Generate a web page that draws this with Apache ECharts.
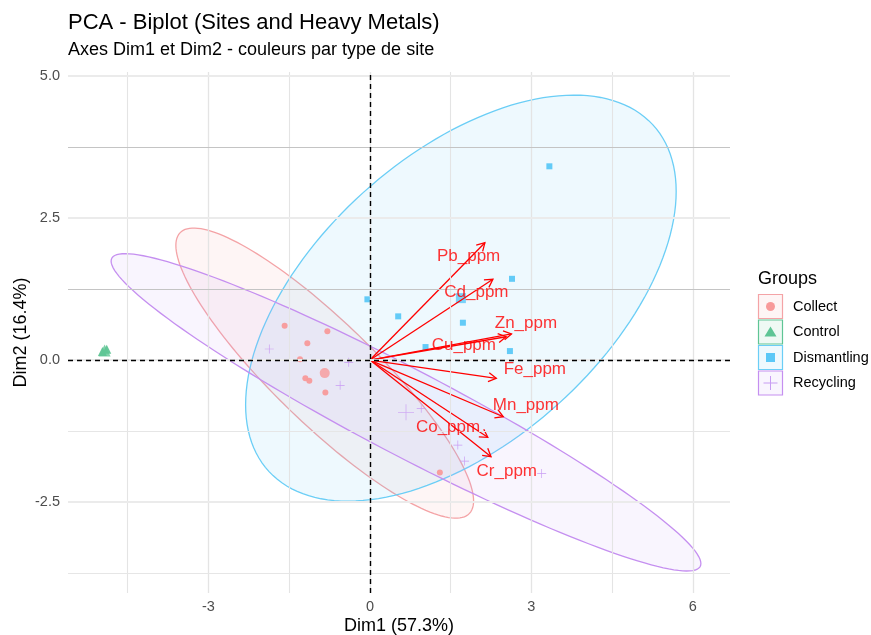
<!DOCTYPE html>
<html><head><meta charset="utf-8">
<script src="https://cdn.jsdelivr.net/npm/echarts@6/dist/echarts.min.js"></script>
<style>html,body{margin:0;padding:0;background:#fff}#c{width:871px;height:635px}</style>
</head><body><div id="c"></div>
<script>
// ---------- data ----------
const groups = ['Collect', 'Control', 'Dismantling', 'Recycling'];
const groupColors = ['#F89A9A', '#5FC595', '#5BC8F7', '#C99CF3'];
const borderColors = ['#F4A3A6', '#5FC595', '#6BCEF6', '#C58FF0'];

const collectX = [-1.585, -0.791, -1.163, -1.299, -1.200, -1.126, -0.828, 1.299];
const collectY = [0.604, 0.505, 0.294, 0.012, -0.322, -0.364, -0.569, -1.977];
const controlX = [-4.97, -4.89];
const controlY = [0.15, 0.19];
const dismantlingX = [3.334, 2.640, -0.047, 0.525, 1.727, 1.033, 2.601];
const dismantlingY = [3.410, 1.430, 1.069, 0.769, 0.657, 0.229, 0.158];
const recyclingX = [-1.870, -0.394, -0.554, 0.953, 1.633, 1.758, 3.191];
const recyclingY = [0.194, -0.040, -0.445, -0.850, -1.496, -1.778, -1.995];

// group mean points (larger markers)
const meanX = [-0.84, -4.93, 1.69, 0.67];
const meanY = [-0.23, 0.17, 1.09, -0.92];

// confidence ellipse spread (data units): var x, var y, cov xy ; null = none drawn
const ellXX = [7.65, null, 16.00, 30.02];
const ellYY = [6.52, null, 12.77, 7.80];
const ellXY = [-6.22, null, 7.51, -14.58];

// variable arrows
const varNames = ['Pb_ppm', 'Cd_ppm', 'Zn_ppm', 'Cu_ppm', 'Fe_ppm', 'Mn_ppm', 'Co_ppm', 'Cr_ppm'];
const varX = [2.136, 2.285, 2.630, 2.530, 2.348, 2.478, 2.190, 2.250];
const varY = [2.065, 1.421, 0.460, 0.410, -0.322, -0.998, -1.360, -1.700];
const labelX = [1.833, 1.978, 2.899, 1.745, 3.064, 2.897, 1.451, 2.543];
const labelY = [1.831, 1.192, 0.646, 0.252, -0.158, -0.804, -1.185, -1.966];

// axes
const xTicks = [-3, 0, 3, 6];
const xMinorTicks = [-4.5, -1.5, 1.5, 4.5];
const yTicks = [-2.5, 0, 2.5, 5];
const yMinorTicks = [-3.75, -1.25, 1.25, 3.75];

// ---------- chart ----------
const FONT = 'Liberation Sans, Arial, Helvetica, sans-serif';
function hexA(hex, a) {
  const n = parseInt(hex.slice(1), 16);
  return 'rgba(' + ((n >> 16) & 255) + ',' + ((n >> 8) & 255) + ',' + (n & 255) + ',' + a + ')';
}
const crossSmall = 'path://M-1,-0.075L1,-0.075L1,0.075L-1,0.075Z M-0.075,-1L0.075,-1L0.075,1L-0.075,1Z';
const crossBig = 'path://M-1,-0.05L1,-0.05L1,0.05L-1,0.05Z M-0.05,-1L0.05,-1L0.05,1L-0.05,1Z';

const pointSets = [[collectX, collectY], [controlX, controlY], [dismantlingX, dismantlingY], [recyclingX, recyclingY]];
const symbols = ['circle', 'triangle', 'rect', crossSmall];
const symbolSizes = [6, 9, 6, 9];
const meanSymbols = ['circle', 'triangle', 'rect', crossBig];
const meanSizes = [10, 12, 10, 16];

const series = [];

// grid lines
const gridLines = [];
xTicks.forEach(v => gridLines.push({ xAxis: v, lineStyle: { color: '#E4E4E4', width: 1.3, type: 'solid' } }));
xMinorTicks.forEach(v => gridLines.push({ xAxis: v, lineStyle: { color: '#E4E4E4', width: 1.1, type: 'solid' } }));
yTicks.forEach(v => gridLines.push({ yAxis: v, lineStyle: { color: '#EBEBEB', width: 2, type: 'solid' } }));
yMinorTicks.forEach(v => gridLines.push({ yAxis: v, lineStyle: { color: v > 0 ? '#C4C4C4' : '#E6E6E6', width: 1, type: 'solid' } }));
series.push({
  type: 'scatter', data: [], z: 0, silent: true,
  markLine: { silent: true, symbol: ['none', 'none'], label: { show: false }, animation: false, data: gridLines }
});

// ellipses
groups.forEach((g, i) => {
  if (ellXX[i] == null) return;
  const L11 = Math.sqrt(ellXX[i]);
  const L21 = ellXY[i] / L11;
  const L22 = Math.sqrt(ellYY[i] - L21 * L21);
  series.push({
    type: 'custom', z: 1, silent: true,
    data: [[meanX[i], meanY[i]]],
    renderItem: (params, api) => {
      const cx = api.value(0), cy = api.value(1);
      const pts = [];
      for (let k = 0; k <= 160; k++) {
        const t = k / 160 * Math.PI * 2;
        const c = Math.cos(t), s = Math.sin(t);
        pts.push(api.coord([cx + L11 * c, cy + L21 * c + L22 * s]));
      }
      return { type: 'polygon', shape: { points: pts },
        style: { fill: hexA(groupColors[i], 0.1), stroke: borderColors[i], lineWidth: 1.3 } };
    }
  });
});

// zero lines
series.push({
  type: 'scatter', data: [], z: 2, silent: true,
  markLine: { silent: true, symbol: ['none', 'none'], label: { show: false }, animation: false,
    lineStyle: { color: '#000', width: 1.4, type: [5, 4] },
    data: [{ xAxis: 0 }, { yAxis: 0 }] }
});

// points
groups.forEach((g, i) => {
  const [xs, ys] = pointSets[i];
  const isCross = i === 3;
  series.push({
    name: g, type: 'scatter', z: 3,
    symbol: symbols[i], symbolSize: symbolSizes[i],
    itemStyle: { color: groupColors[i], opacity: isCross ? 1 : 0.95 },
    data: xs.map((x, k) => [x, ys[k]])
  });
  series.push({
    name: g + ' mean', type: 'scatter', z: 3,
    symbol: meanSymbols[i], symbolSize: meanSizes[i],
    itemStyle: { color: groupColors[i] },
    data: [[meanX[i], meanY[i]]]
  });
});

// arrows
series.push({
  type: 'custom', z: 4, silent: true,
  data: varX.map((x, i) => [x, varY[i]]),
  renderItem: (params, api) => {
    const p0 = api.coord([0, 0]);
    const p1 = api.coord([api.value(0), api.value(1)]);
    const ang = Math.atan2(p1[1] - p0[1], p1[0] - p0[0]);
    const L = 9, a = Math.PI / 6;
    const h1 = [p1[0] - L * Math.cos(ang - a), p1[1] - L * Math.sin(ang - a)];
    const h2 = [p1[0] - L * Math.cos(ang + a), p1[1] - L * Math.sin(ang + a)];
    return { type: 'group', children: [
      { type: 'line', shape: { x1: p0[0], y1: p0[1], x2: p1[0], y2: p1[1] }, style: { stroke: '#FF0000', lineWidth: 1.3 } },
      { type: 'polyline', shape: { points: [h1, p1, h2] }, style: { stroke: '#FF0000', fill: null, lineWidth: 1.3 } }
    ] };
  }
});

// arrow labels
series.push({
  type: 'scatter', z: 5, silent: true, symbolSize: 0,
  data: labelX.map((x, i) => ({ value: [x, labelY[i]], name: varNames[i] })),
  label: { show: true, position: 'inside', formatter: '{b}', color: '#FF0000', fontSize: 17, fontFamily: FONT }
});

// legend (graphic)
const legendEls = [{
  type: 'text', z: 10,
  style: { text: 'Groups', x: 758, y: 279, fill: '#000', fontSize: 18, fontFamily: FONT, verticalAlign: 'middle', align: 'left' }
}];
groups.forEach((g, i) => {
  const cy = 306.5 + i * 25.5;
  const cx = 770.5;
  legendEls.push({ type: 'rect', z: 10, shape: { x: 758.5, y: cy - 12, width: 24, height: 24 },
    style: { fill: hexA(groupColors[i], 0.1), stroke: borderColors[i], lineWidth: 1.2 } });
  let sym;
  if (i === 0) sym = { type: 'circle', shape: { cx: cx, cy: cy, r: 4.5 }, style: { fill: groupColors[i] } };
  else if (i === 1) sym = { type: 'polygon', shape: { points: [[cx, cy - 5.5], [cx + 6, cy + 4.5], [cx - 6, cy + 4.5]] }, style: { fill: groupColors[i] } };
  else if (i === 2) sym = { type: 'rect', shape: { x: cx - 4.5, y: cy - 4.5, width: 9, height: 9 }, style: { fill: groupColors[i] } };
  else sym = { type: 'group', children: [
    { type: 'line', shape: { x1: cx - 7, y1: cy, x2: cx + 7, y2: cy }, style: { stroke: groupColors[i], lineWidth: 1 } },
    { type: 'line', shape: { x1: cx, y1: cy - 7, x2: cx, y2: cy + 7 }, style: { stroke: groupColors[i], lineWidth: 1 } }
  ] };
  sym.z = 11;
  legendEls.push(sym);
  legendEls.push({ type: 'text', z: 10,
    style: { text: g, x: 793, y: cy, fill: '#000', fontSize: 14.5, fontFamily: FONT, verticalAlign: 'middle', align: 'left' } });
});

const chart = echarts.init(document.getElementById('c'), null, { renderer: 'canvas' });
chart.setOption({
  animation: false,
  backgroundColor: '#fff',
  title: {
    text: 'PCA - Biplot (Sites and Heavy Metals)',
    subtext: 'Axes Dim1 et Dim2 - couleurs par type de site',
    left: 68, top: 12, itemGap: 7, padding: 0,
    textStyle: { fontSize: 22, fontWeight: 'normal', color: '#000', fontFamily: FONT, lineHeight: 22 },
    subtextStyle: { fontSize: 18, color: '#000', fontFamily: FONT, lineHeight: 18 }
  },
  grid: { left: 68, right: 141, top: 72, bottom: 42, containLabel: false, outerBoundsMode: 'none' },
  xAxis: {
    type: 'value', min: -5.61, max: 6.69,
    name: 'Dim1 (57.3%)', nameLocation: 'middle', nameGap: 24, nameMoveOverlap: false,
    nameTextStyle: { fontSize: 18, color: '#000', fontFamily: FONT },
    axisLine: { show: false }, axisTick: { show: false }, splitLine: { show: false },
    axisLabel: { customValues: xTicks, color: '#4D4D4D', fontSize: 14.5, fontFamily: FONT, margin: 6,
      formatter: v => String(v) }
  },
  yAxis: {
    type: 'value', min: -4.10, max: 5.07,
    name: 'Dim2 (16.4%)', nameLocation: 'middle', nameGap: 38, nameRotate: 90, nameMoveOverlap: false,
    nameTextStyle: { fontSize: 18, color: '#000', fontFamily: FONT },
    axisLine: { show: false }, axisTick: { show: false }, splitLine: { show: false },
    axisLabel: { customValues: yTicks, color: '#4D4D4D', fontSize: 14.5, fontFamily: FONT, margin: 8,
      formatter: v => v.toFixed(1) }
  },
  graphic: legendEls,
  series: series
});
</script></body></html>
